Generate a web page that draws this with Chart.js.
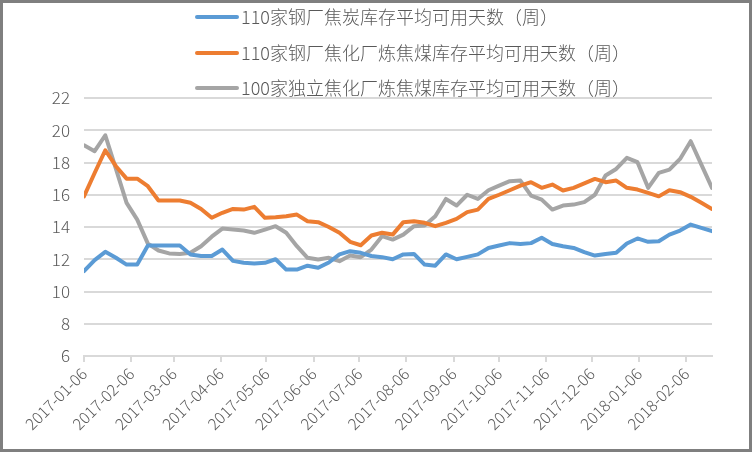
<!DOCTYPE html>
<html>
<head>
<meta charset="utf-8">
<script src="https://cdn.jsdelivr.net/npm/chart.js@4"></script>
<style>
  body { margin: 0; background: #fff; }
  #wrap { width: 752px; height: 452px; position: relative; }
</style>
</head>
<body>
<div id="wrap"><canvas id="grafico"></canvas></div>
<script>
// semanas (sexta-feira)
const weeks = [
    "2017-01-06", "2017-01-13", "2017-01-20", "2017-01-27", "2017-02-03", "2017-02-10", "2017-02-17", "2017-02-24",
    "2017-03-03", "2017-03-10", "2017-03-17", "2017-03-24", "2017-03-31", "2017-04-07", "2017-04-14", "2017-04-21",
    "2017-04-28", "2017-05-05", "2017-05-12", "2017-05-19", "2017-05-26", "2017-06-02", "2017-06-09", "2017-06-16",
    "2017-06-23", "2017-06-30", "2017-07-07", "2017-07-14", "2017-07-21", "2017-07-28", "2017-08-04", "2017-08-11",
    "2017-08-18", "2017-08-25", "2017-09-01", "2017-09-08", "2017-09-15", "2017-09-22", "2017-09-29", "2017-10-06",
    "2017-10-13", "2017-10-20", "2017-10-27", "2017-11-03", "2017-11-10", "2017-11-17", "2017-11-24", "2017-12-01",
    "2017-12-08", "2017-12-15", "2017-12-22", "2017-12-29", "2018-01-05", "2018-01-12", "2018-01-19", "2018-01-26",
    "2018-02-02", "2018-02-09", "2018-02-16", "2018-02-23"
];

// rótulos do eixo x (mensais)
const tickLabels = [
    "2017-01-06", "2017-02-06", "2017-03-06", "2017-04-06", "2017-05-06", "2017-06-06", "2017-07-06",
    "2017-08-06", "2017-09-06", "2017-10-06", "2017-11-06", "2017-12-06", "2018-01-06", "2018-02-06"
];

const seriesNames = [
    "110家钢厂焦炭库存平均可用天数（周）",
    "110家钢厂焦化厂炼焦煤库存平均可用天数（周）",
    "100家独立焦化厂炼焦煤库存平均可用天数（周）"
];

const cokeSteel = [
    11.26, 11.95, 12.46, 12.09, 11.67, 11.67, 12.85, 12.85, 12.85, 12.85, 12.3, 12.2, 12.2, 12.6, 11.9,
    11.78, 11.74, 11.78, 12.0, 11.36, 11.36, 11.6, 11.47, 11.8, 12.3, 12.5, 12.4, 12.2, 12.13, 12.0,
    12.3, 12.33, 11.67, 11.6, 12.3, 12.0, 12.15, 12.3, 12.7, 12.85, 13.0, 12.95, 13.0, 13.33, 12.95,
    12.81, 12.7, 12.44, 12.23, 12.33, 12.4, 12.98, 13.29, 13.08, 13.12, 13.53, 13.78, 14.15, 13.95, 13.74
];

const coalSteel = [
    15.9, 17.35, 18.76, 17.77, 17.0, 17.0, 16.53, 15.64, 15.64, 15.64, 15.5, 15.12, 14.57, 14.88, 15.12,
    15.08, 15.25, 14.57, 14.6, 14.67, 14.77, 14.36, 14.3, 14.0, 13.64, 13.08, 12.87, 13.47, 13.64, 13.53,
    14.3, 14.36, 14.26, 14.05, 14.26, 14.5, 14.92, 15.08, 15.74, 16.0, 16.28, 16.57, 16.78, 16.43, 16.63,
    16.26, 16.43, 16.7, 16.98, 16.78, 16.88, 16.43, 16.32, 16.12, 15.9, 16.28, 16.16, 15.87, 15.5, 15.12
];

const coalCoking = [
    19.07, 18.7, 19.69, 17.6, 15.5, 14.46, 12.97, 12.54, 12.36, 12.33, 12.4, 12.81, 13.4, 13.9, 13.84,
    13.78, 13.64, 13.84, 14.05, 13.64, 12.81, 12.09, 11.98, 12.09, 11.88, 12.23, 12.13, 12.6, 13.43, 13.22,
    13.53, 14.05, 14.09, 14.67, 15.74, 15.33, 16.0, 15.74, 16.28, 16.57, 16.84, 16.88, 15.95, 15.7, 15.08,
    15.33, 15.39, 15.54, 16.0, 17.19, 17.6, 18.29, 18.02, 16.43, 17.36, 17.56, 18.22, 19.32, 17.87, 16.43
];

const cores = ["#5B9BD5", "#ED7D31", "#A5A5A5"];
const fonte = '"Noto Sans CJK SC", "Noto Sans", sans-serif';

// dias desde a primeira semana
const dia = (s) => (Date.parse(s) - Date.parse(weeks[0])) / 86400000;
const pontos = (vals) => vals.map((v, i) => ({ x: dia(weeks[i]), y: v }));

const fundo = {
    id: "fundo",
    beforeDraw(chart) {
        const ctx = chart.ctx;
        ctx.save();
        ctx.fillStyle = "#fff";
        ctx.fillRect(0, 0, chart.width, chart.height);
        ctx.restore();
    },
    afterDraw(chart) {
        const ctx = chart.ctx;
        ctx.save();
        // legenda
        const linhas = [17, 53, 88];
        chart.data.datasets.forEach((ds, i) => {
            ctx.strokeStyle = ds.borderColor;
            ctx.lineWidth = 4;
            ctx.lineCap = "round";
            ctx.beginPath();
            ctx.moveTo(197, linhas[i]);
            ctx.lineTo(237, linhas[i]);
            ctx.stroke();
            ctx.fillStyle = "#595959";
            ctx.font = "300 18px " + fonte;
            ctx.textBaseline = "middle";
            ctx.fillText(ds.label, 241, linhas[i]);
        });
        // moldura
        ctx.strokeStyle = "#7f7f7f";
        ctx.lineWidth = 3;
        ctx.strokeRect(1.5, 1.5, chart.width - 3, chart.height - 3);
        ctx.restore();
    }
};

new Chart(document.getElementById("grafico"), {
    type: "line",
    data: {
        datasets: [cokeSteel, coalSteel, coalCoking].map((vals, i) => ({
            label: seriesNames[i],
            data: pontos(vals),
            borderColor: cores[i],
            backgroundColor: cores[i],
            borderWidth: 4,
            pointRadius: 0,
            tension: 0,
            borderJoinStyle: "round",
            borderCapStyle: "round"
        }))
    },
    options: {
        responsive: true,
        maintainAspectRatio: false,
        animation: false,
        layout: { padding: { top: 98, right: 40, left: 0, bottom: 0 } },
        plugins: {
            legend: { display: false },
            tooltip: { enabled: false }
        },
        scales: {
            x: {
                type: "linear",
                min: 0,
                max: dia(weeks[weeks.length - 1]),
                afterBuildTicks: (scale) => {
                    scale.ticks = tickLabels.map(t => ({ value: dia(t) }));
                },
                afterFit: (scale) => { scale.height = 96; },
                ticks: {
                    autoSkip: false,
                    maxRotation: 45,
                    minRotation: 45,
                    color: "#595959",
                    font: { family: fonte, size: 16, weight: 300 },
                    padding: 2,
                    callback: (v) => tickLabels.find(t => dia(t) === v) || ""
                },
                grid: {
                    drawOnChartArea: false,
                    drawTicks: true,
                    tickLength: 6,
                    color: "#d9d9d9",
                    lineWidth: 2
                },
                border: { display: true, color: "#d9d9d9", width: 2 }
            },
            y: {
                min: 6,
                max: 22,
                afterFit: (scale) => { scale.width = 84; },
                ticks: {
                    stepSize: 2,
                    color: "#595959",
                    font: { family: fonte, size: 17, weight: 300 },
                    padding: 14
                },
                grid: { color: "#d9d9d9", lineWidth: 2, drawTicks: false },
                border: { display: false }
            }
        }
    },
    plugins: [fundo]
});
</script>
</body>
</html>
